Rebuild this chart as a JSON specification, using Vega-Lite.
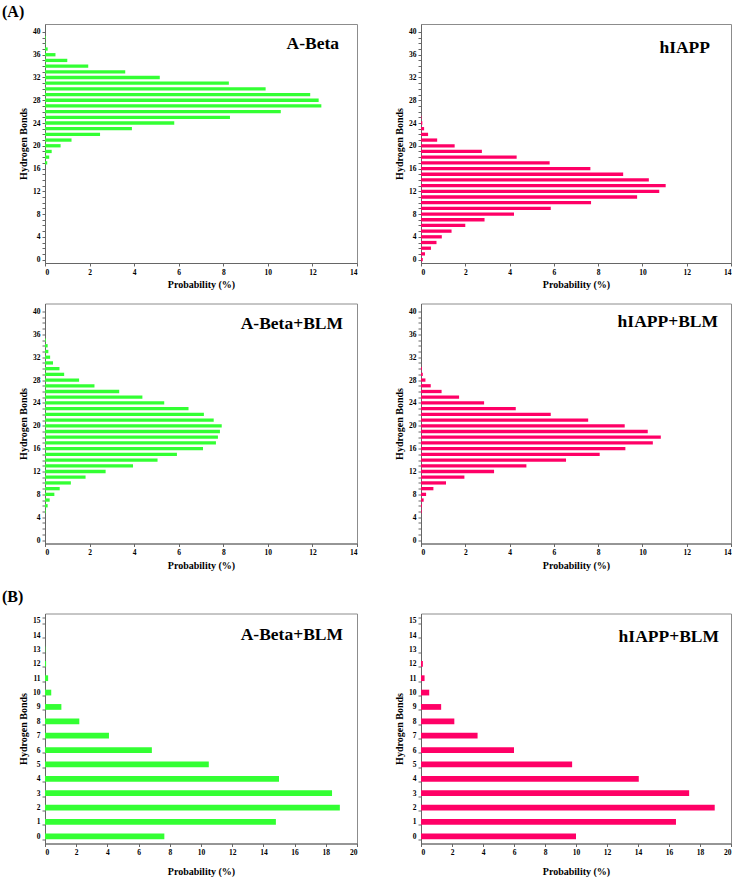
{
  "$schema": "https://vega.github.io/schema/vega-lite/v6.json",
  "padding": {"left": 2, "top": 3, "right": 0, "bottom": 0},
  "datasets": {
    "abeta": [
      {"hbonds": 17, "prob": 0.1}, {"hbonds": 18, "prob": 0.19}, {"hbonds": 19, "prob": 0.3},
      {"hbonds": 20, "prob": 0.7}, {"hbonds": 21, "prob": 1.19}, {"hbonds": 22, "prob": 2.47},
      {"hbonds": 23, "prob": 3.9}, {"hbonds": 24, "prob": 5.8}, {"hbonds": 25, "prob": 8.3},
      {"hbonds": 26, "prob": 10.58}, {"hbonds": 27, "prob": 12.4}, {"hbonds": 28, "prob": 12.28},
      {"hbonds": 29, "prob": 11.9}, {"hbonds": 30, "prob": 9.9}, {"hbonds": 31, "prob": 8.25},
      {"hbonds": 32, "prob": 5.15}, {"hbonds": 33, "prob": 3.6}, {"hbonds": 34, "prob": 1.94},
      {"hbonds": 35, "prob": 1.0}, {"hbonds": 36, "prob": 0.47}, {"hbonds": 37, "prob": 0.12},
      {"hbonds": 38, "prob": 0.02}, {"hbonds": 39, "prob": 0.03}
    ],
    "hiapp": [
      {"hbonds": 0, "prob": 0.08}, {"hbonds": 1, "prob": 0.18}, {"hbonds": 2, "prob": 0.45},
      {"hbonds": 3, "prob": 0.7}, {"hbonds": 4, "prob": 0.94}, {"hbonds": 5, "prob": 1.38},
      {"hbonds": 6, "prob": 2.0}, {"hbonds": 7, "prob": 2.87}, {"hbonds": 8, "prob": 4.2},
      {"hbonds": 9, "prob": 5.86}, {"hbonds": 10, "prob": 7.68}, {"hbonds": 11, "prob": 9.76},
      {"hbonds": 12, "prob": 10.76}, {"hbonds": 13, "prob": 11.05}, {"hbonds": 14, "prob": 10.29},
      {"hbonds": 15, "prob": 9.13}, {"hbonds": 16, "prob": 7.65}, {"hbonds": 17, "prob": 5.81},
      {"hbonds": 18, "prob": 4.32}, {"hbonds": 19, "prob": 2.75}, {"hbonds": 20, "prob": 1.52},
      {"hbonds": 21, "prob": 0.73}, {"hbonds": 22, "prob": 0.32}, {"hbonds": 23, "prob": 0.14},
      {"hbonds": 24, "prob": 0.06}, {"hbonds": 25, "prob": 0.02}
    ],
    "abeta_blm": [
      {"hbonds": 5, "prob": 0.03}, {"hbonds": 6, "prob": 0.12}, {"hbonds": 7, "prob": 0.21},
      {"hbonds": 8, "prob": 0.42}, {"hbonds": 9, "prob": 0.66}, {"hbonds": 10, "prob": 1.16},
      {"hbonds": 11, "prob": 1.82}, {"hbonds": 12, "prob": 2.72}, {"hbonds": 13, "prob": 3.95},
      {"hbonds": 14, "prob": 5.05}, {"hbonds": 15, "prob": 5.92}, {"hbonds": 16, "prob": 7.09},
      {"hbonds": 17, "prob": 7.67}, {"hbonds": 18, "prob": 7.76}, {"hbonds": 19, "prob": 7.85},
      {"hbonds": 20, "prob": 7.93}, {"hbonds": 21, "prob": 7.57}, {"hbonds": 22, "prob": 7.13},
      {"hbonds": 23, "prob": 6.44}, {"hbonds": 24, "prob": 5.35}, {"hbonds": 25, "prob": 4.37},
      {"hbonds": 26, "prob": 3.33}, {"hbonds": 27, "prob": 2.22}, {"hbonds": 28, "prob": 1.53},
      {"hbonds": 29, "prob": 0.86}, {"hbonds": 30, "prob": 0.65}, {"hbonds": 31, "prob": 0.36},
      {"hbonds": 32, "prob": 0.23}, {"hbonds": 33, "prob": 0.15}, {"hbonds": 34, "prob": 0.12},
      {"hbonds": 35, "prob": 0.04}
    ],
    "hiapp_blm": [
      {"hbonds": 5, "prob": 0.03}, {"hbonds": 6, "prob": 0.04}, {"hbonds": 7, "prob": 0.12},
      {"hbonds": 8, "prob": 0.23}, {"hbonds": 9, "prob": 0.56}, {"hbonds": 10, "prob": 1.13},
      {"hbonds": 11, "prob": 1.96}, {"hbonds": 12, "prob": 3.3}, {"hbonds": 13, "prob": 4.76},
      {"hbonds": 14, "prob": 6.55}, {"hbonds": 15, "prob": 8.07}, {"hbonds": 16, "prob": 9.23},
      {"hbonds": 17, "prob": 10.47}, {"hbonds": 18, "prob": 10.83}, {"hbonds": 19, "prob": 10.24},
      {"hbonds": 20, "prob": 9.2}, {"hbonds": 21, "prob": 7.55}, {"hbonds": 22, "prob": 5.86},
      {"hbonds": 23, "prob": 4.28}, {"hbonds": 24, "prob": 2.85}, {"hbonds": 25, "prob": 1.72},
      {"hbonds": 26, "prob": 0.93}, {"hbonds": 27, "prob": 0.44}, {"hbonds": 28, "prob": 0.2},
      {"hbonds": 29, "prob": 0.08}, {"hbonds": 30, "prob": 0.04}
    ],
    "b_abeta_blm": [
      {"hbonds": 0, "prob": 7.65}, {"hbonds": 1, "prob": 14.8}, {"hbonds": 2, "prob": 18.9},
      {"hbonds": 3, "prob": 18.4}, {"hbonds": 4, "prob": 15.0}, {"hbonds": 5, "prob": 10.5},
      {"hbonds": 6, "prob": 6.85}, {"hbonds": 7, "prob": 4.1}, {"hbonds": 8, "prob": 2.2},
      {"hbonds": 9, "prob": 1.05}, {"hbonds": 10, "prob": 0.4}, {"hbonds": 11, "prob": 0.2},
      {"hbonds": 12, "prob": 0.07}, {"hbonds": 13, "prob": 0.02}
    ],
    "b_hiapp_blm": [
      {"hbonds": 0, "prob": 10.0}, {"hbonds": 1, "prob": 16.45}, {"hbonds": 2, "prob": 18.95},
      {"hbonds": 3, "prob": 17.3}, {"hbonds": 4, "prob": 14.05}, {"hbonds": 5, "prob": 9.75},
      {"hbonds": 6, "prob": 6.0}, {"hbonds": 7, "prob": 3.65}, {"hbonds": 8, "prob": 2.15},
      {"hbonds": 9, "prob": 1.3}, {"hbonds": 10, "prob": 0.53}, {"hbonds": 11, "prob": 0.23},
      {"hbonds": 12, "prob": 0.12}
    ]
  },
  "spacing": 17.5,
  "resolve": {"scale": {"x": "independent", "y": "independent"}},
  "vconcat": [
    {
      "title": {"text": "(A)", "anchor": "start", "frame": "group", "dx": -43, "offset": 4, "fontSize": 16},
      "spacing": 12.5,
      "resolve": {"scale": {"x": "independent", "y": "independent"}},
      "vconcat": [
        {
          "spacing": 64,
          "bounds": "flush",
          "resolve": {"scale": {"x": "independent", "y": "independent"}},
          "hconcat": [
            {
              "width": 312, "height": 239,
              "title": {"text": "A-Beta", "anchor": "end", "frame": "group", "offset": -28, "dx": -18},
              "data": {"name": "abeta"},
              "mark": {"type": "bar", "orient": "horizontal", "color": "#33ff33", "size": 3.3},
              "encoding": {
                "x": {"field": "prob", "type": "quantitative", "title": "Probability (%)",
                      "scale": {"domain": [0, 14], "nice": false, "padding": 0}, "axis": {"values": [0, 2, 4, 6, 8, 10, 12, 14]}},
                "y": {"field": "hbonds", "type": "quantitative", "title": "Hydrogen Bonds",
                      "scale": {"domain": [-0.6, 41.4], "nice": false, "zero": false, "padding": 0},
                      "axis": {"values": [0,1,2,3,4,5,6,7,8,9,10,11,12,13,14,15,16,17,18,19,20,21,22,23,24,25,26,27,28,29,30,31,32,33,34,35,36,37,38,39,40],
                               "labelExpr": "datum.value % 4 == 0 ? datum.label : ''"}}
              }
            },
            {
              "width": 310, "height": 239,
              "title": {"text": "hIAPP", "anchor": "end", "frame": "group", "offset": -32.5, "dx": -21},
              "data": {"name": "hiapp"},
              "mark": {"type": "bar", "orient": "horizontal", "color": "#ff0066", "size": 3.3},
              "encoding": {
                "x": {"field": "prob", "type": "quantitative", "title": "Probability (%)",
                      "scale": {"domain": [0, 14], "nice": false, "padding": 0}, "axis": {"values": [0, 2, 4, 6, 8, 10, 12, 14]}},
                "y": {"field": "hbonds", "type": "quantitative", "title": "Hydrogen Bonds",
                      "scale": {"domain": [-0.6, 41.4], "nice": false, "zero": false, "padding": 0},
                      "axis": {"values": [0,1,2,3,4,5,6,7,8,9,10,11,12,13,14,15,16,17,18,19,20,21,22,23,24,25,26,27,28,29,30,31,32,33,34,35,36,37,38,39,40],
                               "labelExpr": "datum.value % 4 == 0 ? datum.label : ''"}}
              }
            }
          ]
        },
        {
          "spacing": 64,
          "bounds": "flush",
          "resolve": {"scale": {"x": "independent", "y": "independent"}},
          "hconcat": [
            {
              "width": 312, "height": 240,
              "title": {"text": "A-Beta+BLM", "anchor": "end", "frame": "group", "offset": -29, "dx": -14},
              "data": {"name": "abeta_blm"},
              "mark": {"type": "bar", "orient": "horizontal", "color": "#33ff33", "size": 3.3},
              "encoding": {
                "x": {"field": "prob", "type": "quantitative", "title": "Probability (%)",
                      "scale": {"domain": [0, 14], "nice": false, "padding": 0}, "axis": {"values": [0, 2, 4, 6, 8, 10, 12, 14]}},
                "y": {"field": "hbonds", "type": "quantitative", "title": "Hydrogen Bonds",
                      "scale": {"domain": [-0.6, 41.4], "nice": false, "zero": false, "padding": 0},
                      "axis": {"values": [0,1,2,3,4,5,6,7,8,9,10,11,12,13,14,15,16,17,18,19,20,21,22,23,24,25,26,27,28,29,30,31,32,33,34,35,36,37,38,39,40],
                               "labelExpr": "datum.value % 4 == 0 ? datum.label : ''"}}
              }
            },
            {
              "width": 310, "height": 240,
              "title": {"text": "hIAPP+BLM", "anchor": "end", "frame": "group", "offset": -27, "dx": -13},
              "data": {"name": "hiapp_blm"},
              "mark": {"type": "bar", "orient": "horizontal", "color": "#ff0066", "size": 3.3},
              "encoding": {
                "x": {"field": "prob", "type": "quantitative", "title": "Probability (%)",
                      "scale": {"domain": [0, 14], "nice": false, "padding": 0}, "axis": {"values": [0, 2, 4, 6, 8, 10, 12, 14]}},
                "y": {"field": "hbonds", "type": "quantitative", "title": "Hydrogen Bonds",
                      "scale": {"domain": [-0.6, 41.4], "nice": false, "zero": false, "padding": 0},
                      "axis": {"values": [0,1,2,3,4,5,6,7,8,9,10,11,12,13,14,15,16,17,18,19,20,21,22,23,24,25,26,27,28,29,30,31,32,33,34,35,36,37,38,39,40],
                               "labelExpr": "datum.value % 4 == 0 ? datum.label : ''"}}
              }
            }
          ]
        }
      ]
    },
    {
      "title": {"text": "(B)", "anchor": "start", "frame": "group", "dx": -43, "offset": 4, "fontSize": 16},
      "spacing": 64,
      "bounds": "flush",
      "resolve": {"scale": {"x": "independent", "y": "independent"}},
      "hconcat": [
        {
          "width": 312, "height": 230,
          "title": {"text": "A-Beta+BLM", "anchor": "end", "frame": "group", "offset": -33.5, "dx": -14},
          "data": {"name": "b_abeta_blm"},
          "mark": {"type": "bar", "orient": "horizontal", "color": "#33ff33"},
          "encoding": {
            "x": {"field": "prob", "type": "quantitative", "title": "Probability (%)",
                  "scale": {"domain": [0, 20], "nice": false},
                  "axis": {"values": [0, 2, 4, 6, 8, 10, 12, 14, 16, 18, 20], "titlePadding": 10}},
            "y": {"field": "hbonds", "type": "ordinal", "title": "Hydrogen Bonds",
                  "scale": {"domain": [15,14,13,12,11,10,9,8,7,6,5,4,3,2,1,0], "paddingInner": 0.6, "paddingOuter": 0.3},
                  "axis": {"tickBand": "extent", "labelAngle": 0}}
          }
        },
        {
          "width": 310, "height": 230,
          "title": {"text": "hIAPP+BLM", "anchor": "end", "frame": "group", "offset": -36, "dx": -12},
          "data": {"name": "b_hiapp_blm"},
          "mark": {"type": "bar", "orient": "horizontal", "color": "#ff0066"},
          "encoding": {
            "x": {"field": "prob", "type": "quantitative", "title": "Probability (%)",
                  "scale": {"domain": [0, 20], "nice": false},
                  "axis": {"values": [0, 2, 4, 6, 8, 10, 12, 14, 16, 18, 20], "titlePadding": 10}},
            "y": {"field": "hbonds", "type": "ordinal", "title": "Hydrogen Bonds",
                  "scale": {"domain": [15,14,13,12,11,10,9,8,7,6,5,4,3,2,1,0], "paddingInner": 0.6, "paddingOuter": 0.3},
                  "axis": {"tickBand": "extent", "labelAngle": 0}}
          }
        }
      ]
    }
  ],
  "config": {
    "font": "Liberation Serif",
    "view": {"stroke": "#8c8c8c", "strokeWidth": 1},
    "axis": {
      "grid": false,
      "labelFont": "Liberation Serif", "labelFontWeight": "bold", "labelFontSize": 7.5, "labelColor": "#000",
      "titleFont": "Liberation Serif", "titleFontWeight": "bold", "titleFontSize": 10, "titleColor": "#000",
      "domainColor": "#666", "tickColor": "#666", "tickSize": 3, "labelPadding": 2, "titlePadding": 4
    },
    "title": {"font": "Liberation Serif", "fontWeight": "bold", "fontSize": 17.5, "color": "#000"}
  }
}
